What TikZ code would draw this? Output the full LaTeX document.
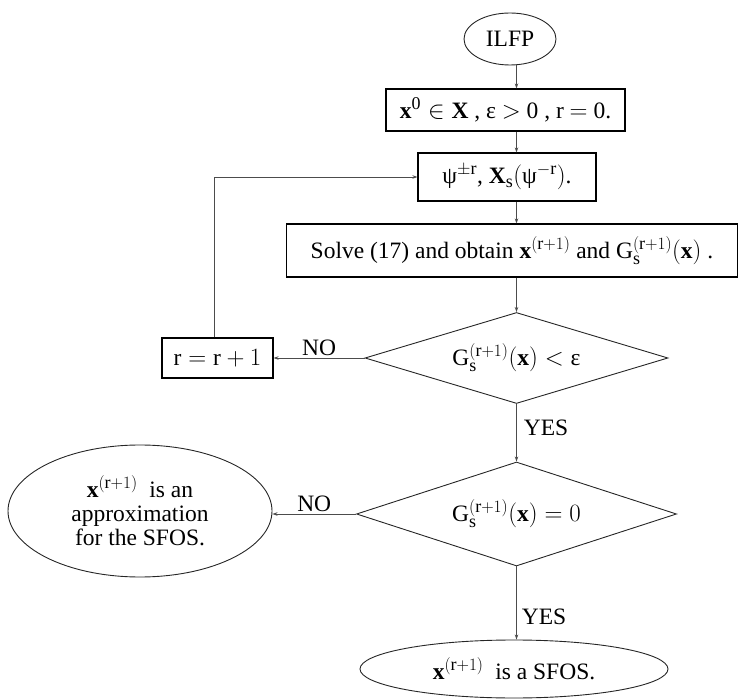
\documentclass[tikz,border=0pt]{standalone}
\usepackage{fontspec}
\setmainfont{Liberation Serif}
\DeclareMathSizes{23.5}{23.5}{18}{14}
\usetikzlibrary{shapes.geometric,arrows.meta}
\begin{document}
\begin{tikzpicture}[x=1pt,y=-1pt,
  txt/.style={font=\fontsize{23.5}{24}\selectfont},
  box/.style={draw=black, line width=1.1pt, rectangle, inner sep=0pt, txt},
  ell/.style={draw=black!85, line width=0.9pt, ellipse, inner sep=0pt, txt},
  dia/.style={draw=black!85, line width=0.9pt, diamond, inner sep=0pt, shape aspect=3.3, txt},
  conn/.style={draw=black!70, line width=0.8pt, -{Stealth[length=5pt,width=3.5pt]}},
  lbl/.style={txt, inner sep=2pt}]
\useasboundingbox (0,0) rectangle (739,700);
\coordinate (ax) at (516.5,0);
\coordinate (lp) at (214,0);

\node[ell, minimum width=92pt, minimum height=52pt] (start) at (510,39) {ILFP};
\node[box, minimum width=239pt, minimum height=42pt] (init) at (505.5,110)
  {$\mathbf{x}^{\mathrm{0}}\in\mathbf{X}$ , ε $>$ 0 , r $=$ 0.};
\node[box, minimum width=178pt, minimum height=48pt] (psi) at (507,177)
  {$\mbox{ψ}^{\pm\mathrm{r}}$, $\mathbf{X}_{\mathrm{s}}\bigl(\mbox{ψ}^{-\mathrm{r}}\bigr)$.};
\node[box, minimum width=451pt, minimum height=53pt] (solve) at (512,250.5)
  {Solve (17) and obtain $\mathbf{x}^{(\mathrm{r}+1)}$ and $\mathrm{G}_{\mathrm{s}}^{(\mathrm{r}+1)}\bigl(\mathbf{x}\bigr)$ .};
\node[dia, minimum width=303pt, minimum height=91pt] (d1) at (516.5,358)
  {$\mathrm{G}_{\mathrm{s}}^{(\mathrm{r}+1)}\bigl(\mathbf{x}\bigr)<\mbox{ε}$};
\node[box, minimum width=111pt, minimum height=40pt] (inc) at (217.5,358)
  {$\mathrm{r}=\mathrm{r}+1$};
\node[dia, minimum width=320pt, minimum height=104pt] (d2) at (516.5,514)
  {$\mathrm{G}_{\mathrm{s}}^{(\mathrm{r}+1)}\bigl(\mathbf{x}\bigr)=0$};
\node[ell, minimum width=264pt, minimum height=132pt, align=center] (approx) at (140,511)
  {$\mathbf{x}^{(\mathrm{r}+1)}$\ \ is an\\approximation\\for the SFOS.};
\node[ell, minimum width=308pt, minimum height=58pt] (sfos) at (514,669)
  {$\mathbf{x}^{(\mathrm{r}+1)}$\ \ is a SFOS.};

\draw[conn] (start.south -| ax) -- (init.north -| ax);
\draw[conn] (init.south -| ax) -- (psi.north -| ax);
\draw[conn] (psi.south -| ax) -- (solve.north -| ax);
\draw[conn] (solve.south -| ax) -- (d1.north);
\draw[conn] (d1.west) -- node[above, lbl] {NO} (inc.east);
\draw[conn] (inc.north -| lp) |- (psi.west);
\draw[conn] (d1.south) -- node[pos=0.41, right, lbl, inner sep=7pt] {YES} (d2.north);
\draw[conn] (d2.west) -- node[above, lbl] {NO} (d2.west -| approx.east);
\draw[conn] (d2.south) -- node[pos=0.69, right, lbl, inner sep=5pt] {YES} (sfos.north -| d2.south);
\end{tikzpicture}
\end{document}
